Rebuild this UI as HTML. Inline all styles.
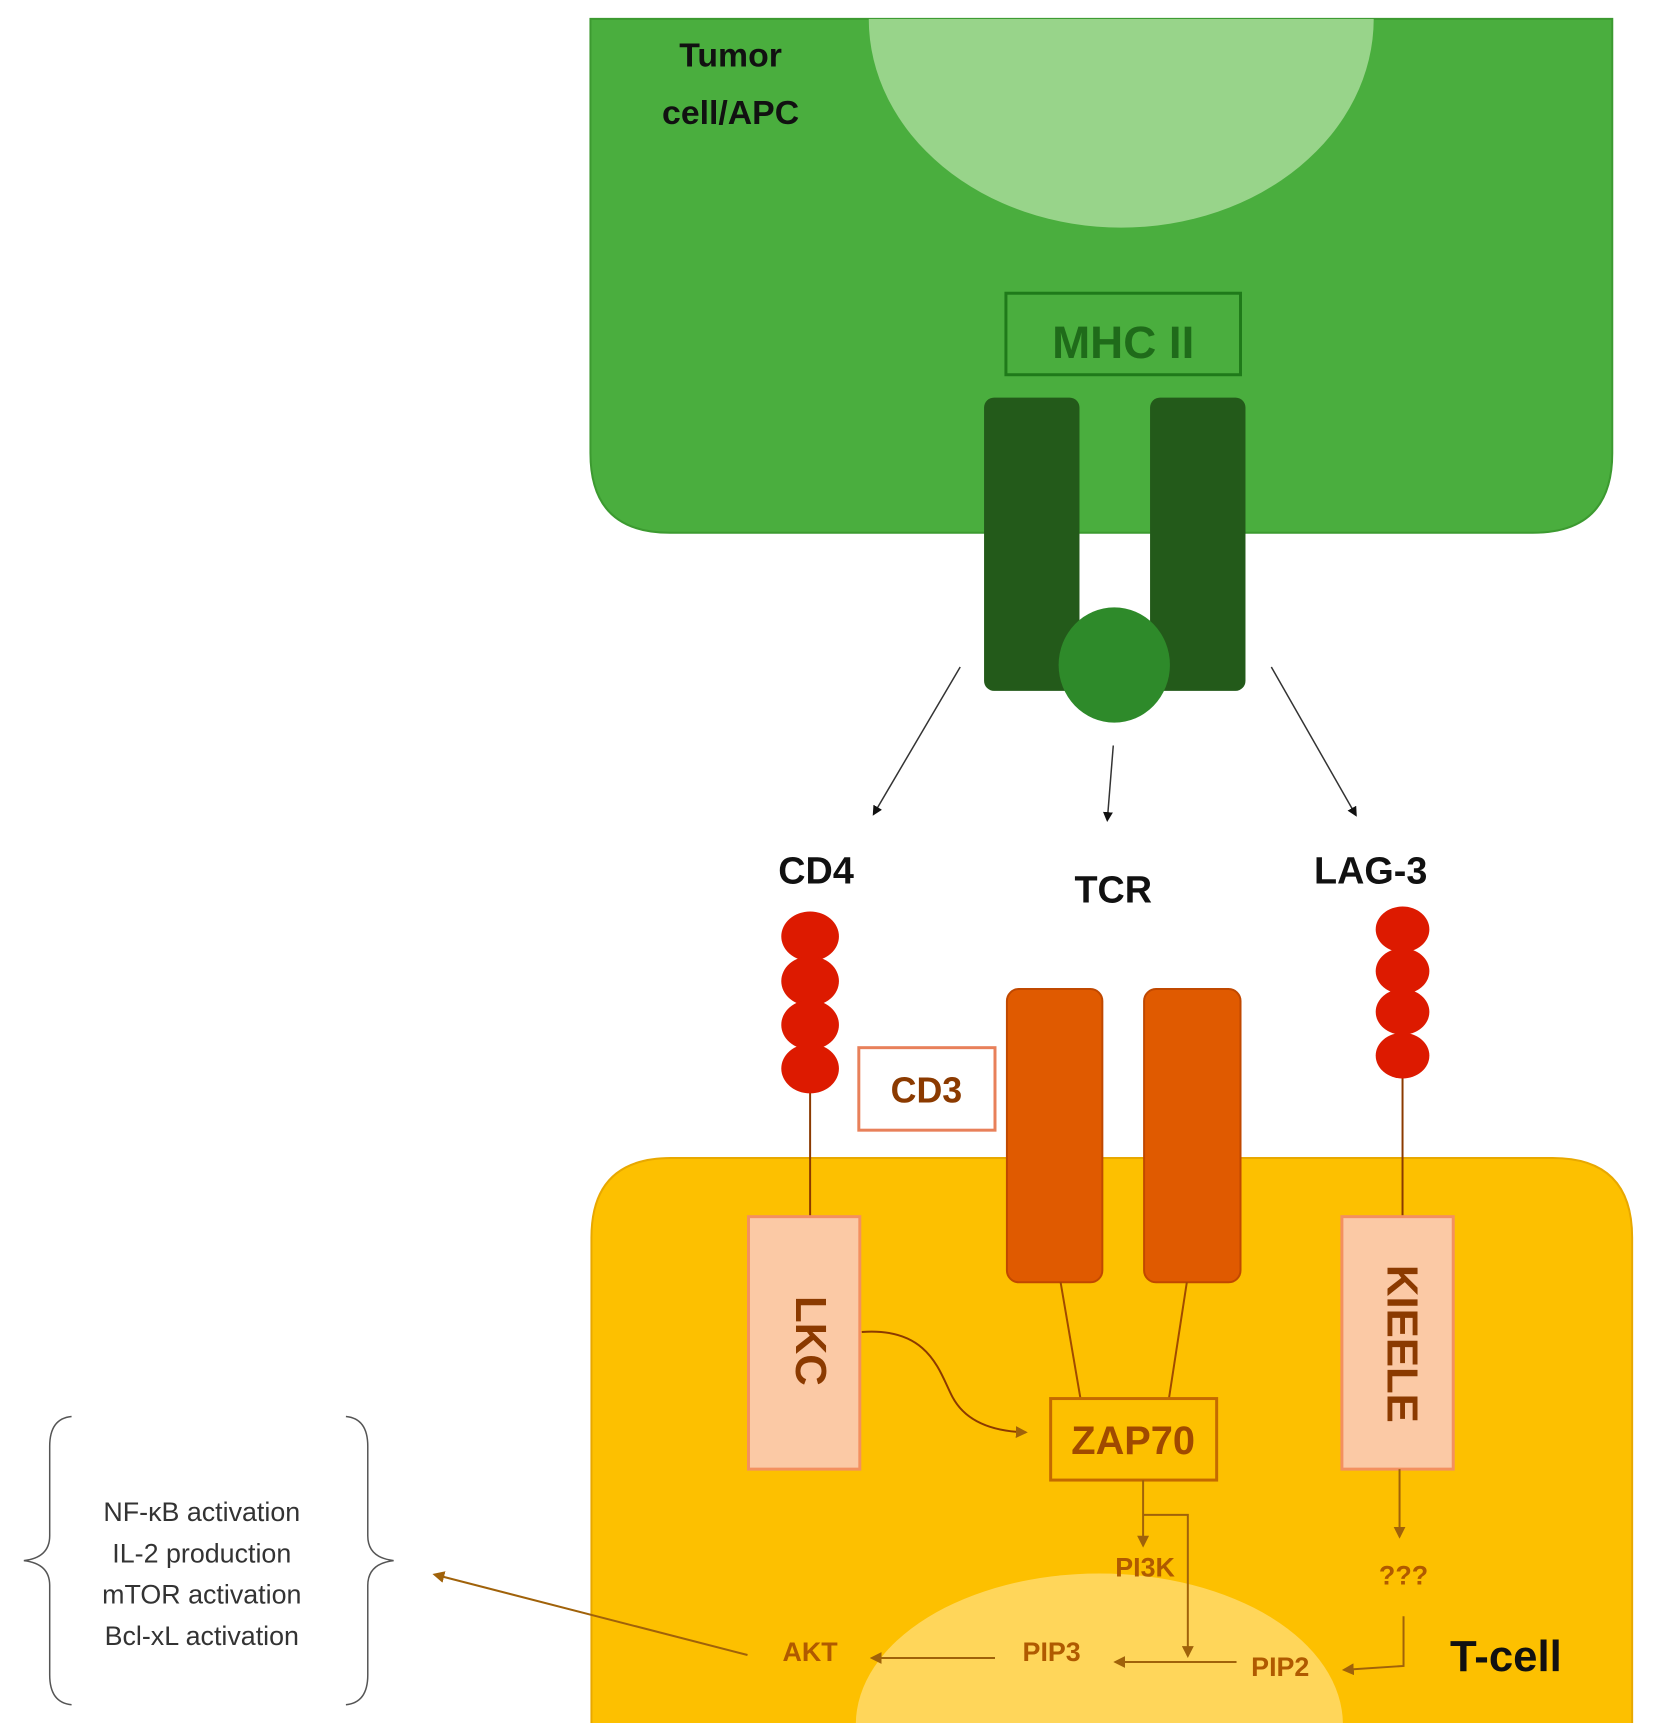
<!DOCTYPE html>
<html><head><meta charset="utf-8"><style>html,body{margin:0;padding:0;background:#fff;width:1659px;height:1723px;overflow:hidden}svg{display:block}</style></head>
<body>
<svg width="1659" height="1723" viewBox="0 0 1659 1723" xmlns="http://www.w3.org/2000/svg" font-family="Liberation Sans, sans-serif">
<defs>
<marker id="ak" markerWidth="10" markerHeight="10" refX="8" refY="5" orient="auto" markerUnits="userSpaceOnUse"><path d="M0,0 L10,5 L0,10 z" fill="#111"/></marker>
<marker id="ao" markerWidth="12" markerHeight="12" refX="10" refY="6" orient="auto" markerUnits="userSpaceOnUse"><path d="M0,0 L12,6 L0,12 z" fill="#a0620a"/></marker>
<clipPath id="gc"><path d="M594,19 H1622 V456 Q1622,536 1542,536 H674 Q594,536 594,456 Z"/></clipPath>
<clipPath id="tc"><path d="M675,1165 H1562 Q1642,1165 1642,1245 V1740 H595 V1245 Q595,1165 675,1165 Z"/></clipPath>
</defs>
<g transform="scale(0.994)">
<path d="M594,19 H1622 V456 Q1622,536 1542,536 H674 Q594,536 594,456 Z" fill="#4aae3e" stroke="#3c9a30" stroke-width="2"/>
<ellipse cx="1128" cy="19" rx="254" ry="210" fill="#98d48a" clip-path="url(#gc)"/>
<text x="735" y="67" font-size="34" font-weight="bold" text-anchor="middle" fill="#111">Tumor</text>
<text x="735" y="125" font-size="34" font-weight="bold" text-anchor="middle" fill="#111">cell/APC</text>
<rect x="1012" y="295" width="236" height="82" fill="none" stroke="#1f7a1a" stroke-width="3"/>
<text x="1130" y="360" font-size="46" font-weight="bold" text-anchor="middle" fill="#1f6b1a">MHC II</text>
<rect x="990" y="400" width="96" height="295" rx="10" fill="#235a1a"/>
<rect x="1157" y="400" width="96" height="295" rx="10" fill="#235a1a"/>
<ellipse cx="1121" cy="669" rx="56" ry="58" fill="#2e8a2a"/>
<line x1="966" y1="671" x2="879" y2="819" stroke="#333" stroke-width="1.5" marker-end="url(#ak)"/>
<line x1="1120" y1="750" x2="1114" y2="825" stroke="#333" stroke-width="1.5" marker-end="url(#ak)"/>
<line x1="1279" y1="671" x2="1364" y2="820" stroke="#333" stroke-width="1.5" marker-end="url(#ak)"/>
<text x="821" y="889" font-size="38" font-weight="bold" text-anchor="middle" fill="#111">CD4</text>
<text x="1120" y="908" font-size="38" font-weight="bold" text-anchor="middle" fill="#111">TCR</text>
<text x="1379" y="889" font-size="38" font-weight="bold" text-anchor="middle" fill="#111">LAG-3</text>
<path d="M675,1165 H1562 Q1642,1165 1642,1245 V1740 H595 V1245 Q595,1165 675,1165 Z" fill="#fdc000" stroke="#e8a800" stroke-width="2"/>
<ellipse cx="1106" cy="1735" rx="245" ry="152" fill="#ffd65a" clip-path="url(#tc)"/>
<line x1="815" y1="1075" x2="815" y2="1224" stroke="#8b3a00" stroke-width="2"/>
<g fill="#dd1a00"><ellipse cx="815" cy="942" rx="29" ry="25"/><ellipse cx="815" cy="987" rx="29" ry="25"/><ellipse cx="815" cy="1031" rx="29" ry="25"/><ellipse cx="815" cy="1075" rx="29" ry="25"/></g>
<rect x="753" y="1224" width="112" height="254" fill="#fbc9a5" stroke="#f39060" stroke-width="3"/>
<text transform="translate(816,1349) rotate(90)" font-size="44" font-weight="bold" text-anchor="middle" dy="15" fill="#8b3a00">LKC</text>
<rect x="864" y="1054" width="137" height="83" fill="#fff" stroke="#e8805a" stroke-width="3"/>
<text x="932" y="1109" font-size="36" font-weight="bold" text-anchor="middle" fill="#8b3a00">CD3</text>
<rect x="1013" y="995" width="96" height="295" rx="12" fill="#e05a00" stroke="#c04800" stroke-width="2"/>
<rect x="1151" y="995" width="97" height="295" rx="12" fill="#e05a00" stroke="#c04800" stroke-width="2"/>
<line x1="1067" y1="1290" x2="1087" y2="1407" stroke="#a04a00" stroke-width="2"/>
<line x1="1194" y1="1290" x2="1176" y2="1407" stroke="#a04a00" stroke-width="2"/>
<line x1="1411" y1="1062" x2="1411" y2="1224" stroke="#8b3a00" stroke-width="2"/>
<g fill="#dd1a00"><ellipse cx="1411" cy="935" rx="27" ry="23"/><ellipse cx="1411" cy="977" rx="27" ry="23"/><ellipse cx="1411" cy="1018" rx="27" ry="23"/><ellipse cx="1411" cy="1062" rx="27" ry="23"/></g>
<rect x="1350" y="1224" width="112" height="254" fill="#fbc9a5" stroke="#f39060" stroke-width="3"/>
<text transform="translate(1411,1352) rotate(90)" font-size="44" font-weight="bold" text-anchor="middle" dy="15" fill="#8b3a00">KIEELE</text>
<rect x="1057" y="1407" width="167" height="82" fill="none" stroke="#c46a00" stroke-width="3"/>
<text x="1140" y="1463" font-size="40" font-weight="bold" text-anchor="middle" fill="#a04a00">ZAP70</text>
<path d="M867,1340 C935,1335 945,1380 958,1405 C970,1428 995,1440 1032,1441" fill="none" stroke="#8b3a00" stroke-width="2" marker-end="url(#ao)"/>
<g stroke="#a0620a" stroke-width="2" fill="none">
<line x1="1150" y1="1489" x2="1150" y2="1555" marker-end="url(#ao)"/>
<polyline points="1150,1524 1195,1524 1195,1666" marker-end="url(#ao)"/>
<line x1="1408" y1="1478" x2="1408" y2="1546" marker-end="url(#ao)"/>
<polyline points="1412,1626 1412,1676 1352,1680" marker-end="url(#ao)"/>
<line x1="1244" y1="1672" x2="1122" y2="1672" marker-end="url(#ao)"/>
<line x1="1001" y1="1668" x2="877" y2="1668" marker-end="url(#ao)"/>
<line x1="752" y1="1665" x2="437" y2="1584" marker-end="url(#ao)"/>
</g>
<g font-size="27" fill="#b05a00" text-anchor="middle" font-weight="bold">
<text x="1152" y="1586">PI3K</text>
<text x="1412" y="1594">???</text>
<text x="1288" y="1686">PIP2</text>
<text x="1058" y="1671">PIP3</text>
<text x="815" y="1671">AKT</text>
</g>
<text x="1515" y="1681" font-size="44" font-weight="bold" text-anchor="middle" fill="#111">T-cell</text>
<g fill="none" stroke="#555" stroke-width="1.5">
<path d="M72,1425 Q50,1427 50,1455 V1545 Q50,1567 24,1570 Q50,1573 50,1595 V1685 Q50,1713 72,1715"/>
<path d="M348,1425 Q370,1427 370,1455 V1545 Q370,1567 396,1570 Q370,1573 370,1595 V1685 Q370,1713 348,1715"/>
</g>
<g font-size="27" fill="#333" text-anchor="middle">
<text x="203" y="1530">NF-κB activation</text>
<text x="203" y="1572">IL-2 production</text>
<text x="203" y="1613">mTOR activation</text>
<text x="203" y="1655">Bcl-xL activation</text>
</g>
</g>
</svg>
</body></html>
